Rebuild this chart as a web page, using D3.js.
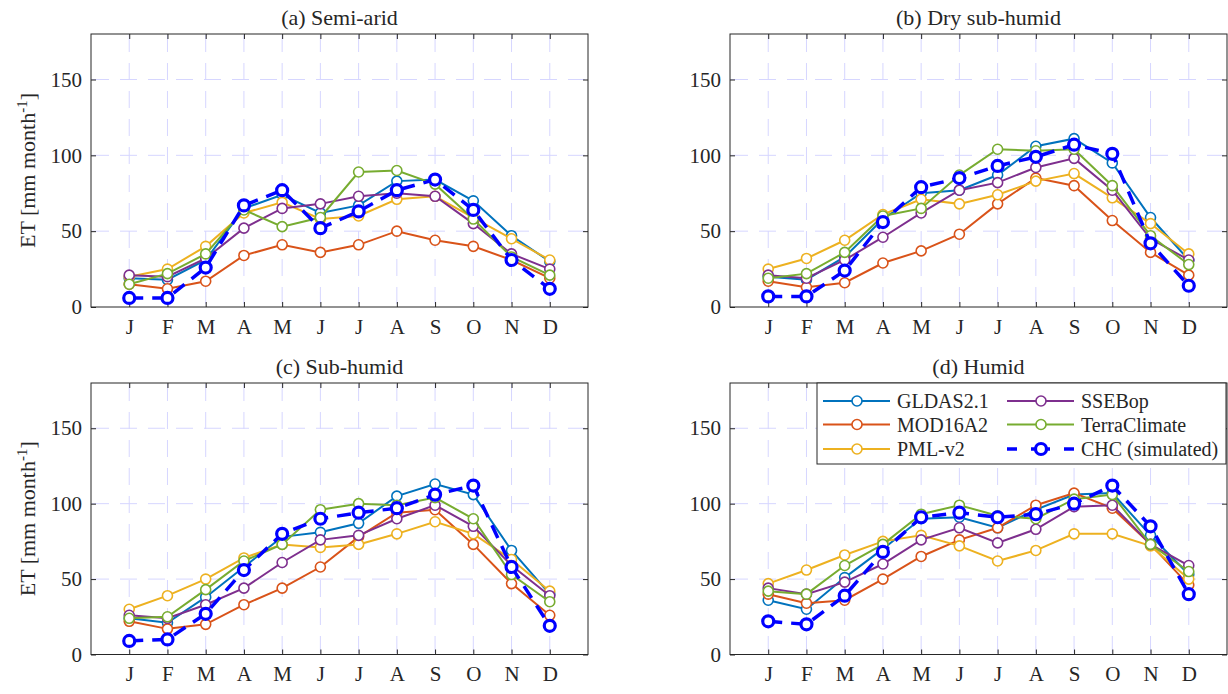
<!DOCTYPE html>
<html>
<head>
<meta charset="utf-8">
<script src="https://cdn.jsdelivr.net/npm/d3@7"></script>
<style>
  body { margin: 0; background: #fff; }
  svg text { font-family: "Liberation Serif", "Times New Roman", serif !important; fill: #262626; }
</style>
</head>
<body>
<script>
// month ticks and panel names
var months = ["J", "F", "M", "A", "M", "J", "J", "A", "S", "O", "N", "D"];
var panelTitles = ["(a) Semi-arid", "(b) Dry sub-humid", "(c) Sub-humid", "(d) Humid"];
var seriesNames = ["GLDAS2.1", "MOD16A2", "PML-v2", "SSEBop", "TerraClimate", "CHC (simulated)"];
var seriesColors = ["#0072BD", "#D95319", "#EDB120", "#7E2F8E", "#77AC30", "#0000FF"];
var yTicks = [0, 50, 100, 150];

// ET values [mm month-1], one row per series (same order as seriesNames)
var semiArid = [
  [19, 18, 31, 65, 74, 62, 67, 83, 84, 70, 47, 30],
  [15, 12, 17, 34, 41, 36, 41, 50, 44, 40, 31, 19],
  [20, 25, 40, 62, 69, 58, 60, 71, 73, 59, 45, 31],
  [21, 20, 32, 52, 65, 68, 73, 75, 73, 55, 35, 25],
  [15, 22, 35, 64, 53, 59, 89, 90, 81, 58, 33, 21],
  [6, 6, 26, 67, 77, 52, 63, 77, 84, 64, 31, 12]
];
var drySubHumid = [
  [20, 18, 33, 58, 75, 77, 87, 106, 111, 95, 59, 31],
  [17, 13, 16, 29, 37, 48, 68, 85, 80, 57, 36, 21],
  [25, 32, 44, 61, 71, 68, 74, 83, 88, 72, 55, 35],
  [21, 19, 31, 46, 62, 77, 82, 92, 98, 77, 45, 31],
  [19, 22, 36, 60, 65, 87, 104, 103, 104, 80, 47, 28],
  [7, 7, 24, 56, 79, 85, 93, 99, 107, 101, 42, 14]
];
var subHumid = [
  [24, 21, 38, 58, 78, 81, 87, 105, 113, 106, 69, 40],
  [22, 17, 20, 33, 44, 58, 78, 94, 96, 73, 47, 26],
  [30, 39, 50, 64, 73, 71, 73, 80, 88, 80, 63, 42],
  [26, 24, 33, 44, 61, 76, 79, 90, 99, 85, 59, 39],
  [24, 25, 43, 62, 73, 96, 100, 99, 104, 90, 53, 35],
  [9, 10, 27, 56, 80, 90, 94, 97, 106, 112, 58, 19]
];
var humid = [
  [36, 30, 51, 70, 90, 91, 84, 96, 106, 107, 79, 53],
  [40, 34, 36, 50, 65, 76, 84, 99, 107, 97, 73, 46],
  [47, 56, 66, 75, 79, 72, 62, 69, 80, 80, 72, 50],
  [44, 40, 48, 60, 76, 84, 74, 83, 98, 99, 73, 59],
  [42, 40, 59, 73, 93, 99, 92, 90, 103, 106, 73, 55],
  [22, 20, 39, 68, 91, 94, 91, 93, 100, 112, 85, 40]
];
var panelData = [semiArid, drySubHumid, subHumid, humid];

var W = 1228, H = 694;
var lefts = [91, 730], rights = [588, 1227];
var tops = [34, 383], bottoms = [307, 654.5];
var tickLen = 5;
var serif = "'Liberation Serif', 'Times New Roman', serif";

var svg = d3.select("body").append("svg")
    .attr("width", W)
    .attr("height", H);

function drawPanel(idx) {
  var col = idx % 2, row = Math.floor(idx / 2);
  var left = lefts[col], right = rights[col], top = tops[row], bottom = bottoms[row];
  var data = panelData[idx];

  var x = d3.scaleLinear().domain([0, 13]).range([left, right]);
  var y = d3.scaleLinear().domain([0, 180]).range([bottom, top]);
  var monthIdx = d3.range(1, 13);

  var g = svg.append("g");

  // grid
  var grid = g.append("g")
      .attr("stroke", "#d6d6ff")
      .attr("stroke-width", 1)
      .attr("stroke-dasharray", "17,11");
  grid.selectAll("line.vx").data(monthIdx).enter().append("line")
      .attr("x1", function(d) { return x(d); })
      .attr("x2", function(d) { return x(d); })
      .attr("y1", top + 1)
      .attr("y2", bottom);
  grid.selectAll("line.hy").data(yTicks.slice(1)).enter().append("line")
      .attr("y1", function(d) { return y(d); })
      .attr("y2", function(d) { return y(d); })
      .attr("x1", left + 1)
      .attr("x2", right);

  // axes (ticks inside, mirrored on all sides)
  function clean(sel) {
    sel.select(".domain").remove();
    sel.selectAll("line").attr("stroke", "#262626");
    sel.attr("font-family", serif).attr("font-size", 21);
    sel.selectAll("text")
        .style("font-family", serif)
        .style("font-size", "21px")
        .attr("fill", "#262626");
  }
  g.append("g")
      .attr("transform", "translate(0," + bottom + ")")
      .call(d3.axisBottom(x).tickValues(monthIdx)
        .tickFormat(function(d) { return months[d - 1]; })
        .tickSize(-tickLen).tickPadding(12))
      .call(clean);
  g.append("g")
      .attr("transform", "translate(0," + top + ")")
      .call(d3.axisTop(x).tickValues(monthIdx).tickFormat("").tickSize(-tickLen))
      .call(clean);
  g.append("g")
      .attr("transform", "translate(" + left + ",0)")
      .call(d3.axisLeft(y).tickValues(yTicks).tickSize(-tickLen).tickPadding(9))
      .call(clean);
  g.append("g")
      .attr("transform", "translate(" + right + ",0)")
      .call(d3.axisRight(y).tickValues(yTicks).tickFormat("").tickSize(-tickLen))
      .call(clean);

  // series
  var line = d3.line()
      .x(function(d, i) { return x(i + 1); })
      .y(function(d) { return y(d); });

  data.forEach(function(vals, s) {
    var chc = s === 5;
    var sg = g.append("g");
    sg.append("path")
        .datum(vals)
        .attr("d", line)
        .attr("fill", "none")
        .attr("stroke", seriesColors[s])
        .attr("stroke-width", chc ? 3.5 : 2)
        .attr("stroke-dasharray", chc ? "14,9" : null);
    sg.selectAll("circle").data(vals).enter().append("circle")
        .attr("cx", function(d, i) { return x(i + 1); })
        .attr("cy", function(d) { return y(d); })
        .attr("r", chc ? 5.5 : 5)
        .attr("fill", "#fff")
        .attr("stroke", seriesColors[s])
        .attr("stroke-width", chc ? 3.2 : 1.6);
  });

  // box
  g.append("rect")
      .attr("x", left).attr("y", top)
      .attr("width", right - left).attr("height", bottom - top)
      .attr("fill", "none")
      .attr("stroke", "#262626")
      .attr("stroke-width", 1);

  // title
  g.append("text")
      .attr("x", (left + right) / 2)
      .attr("y", top - 9)
      .attr("text-anchor", "middle")
      .style("font-family", serif)
      .style("font-size", "22px")
      .text(panelTitles[idx]);

  // y label on left column only
  if (col === 0) {
    var yl = g.append("text")
        .attr("transform", "translate(35," + ((top + bottom) / 2) + ") rotate(-90)")
        .attr("text-anchor", "middle")
        .style("font-family", serif)
        .style("font-size", "22px");
    yl.append("tspan").text("ET [mm month");
    yl.append("tspan").attr("dy", -8).style("font-size", "15px").text("-1");
    yl.append("tspan").attr("dy", 8).text("]");
  }
}

d3.range(4).forEach(drawPanel);

// legend inside panel (d)
var legend = svg.append("g");
legend.append("rect")
    .attr("x", 817).attr("y", 383)
    .attr("width", 409).attr("height", 81)
    .attr("fill", "#fff")
    .attr("stroke", "#262626")
    .attr("stroke-width", 1);

var legX = [823, 1007], legRowY = [401, 424.5, 449];
seriesNames.forEach(function(name, s) {
  var c = Math.floor(s / 3), r = s % 3;
  var chc = s === 5;
  var x0 = legX[c], yy = legRowY[r];
  var lg = legend.append("g");
  lg.append("line")
      .attr("x1", x0).attr("x2", x0 + 67)
      .attr("y1", yy).attr("y2", yy)
      .attr("stroke", seriesColors[s])
      .attr("stroke-width", chc ? 3.5 : 2)
      .attr("stroke-dasharray", chc ? "10,14,19,14,10" : null);
  lg.append("circle")
      .attr("cx", x0 + 34).attr("cy", yy)
      .attr("r", chc ? 5.5 : 5)
      .attr("fill", "#fff")
      .attr("stroke", seriesColors[s])
      .attr("stroke-width", chc ? 3.2 : 1.6);
  lg.append("text")
      .attr("x", x0 + 74).attr("y", yy)
      .attr("dy", "0.35em")
      .style("font-family", serif)
      .style("font-size", "20px")
      .text(name);
});
</script>
</body>
</html>
